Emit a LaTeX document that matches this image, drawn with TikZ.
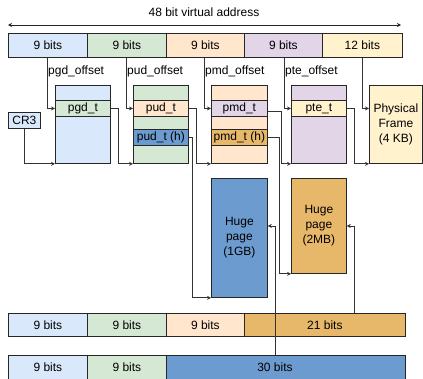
\documentclass[tikz,border=0pt]{standalone}
\usepackage{fontspec}
\setmainfont{Liberation Sans}
\usetikzlibrary{arrows.meta}
\definecolor{cblue}{HTML}{DAE8FC}
\definecolor{cgreen}{HTML}{D5E8D4}
\definecolor{corange}{HTML}{FFE6CC}
\definecolor{cpurple}{HTML}{E1D5E7}
\definecolor{cyellow}{HTML}{FFF2CC}
\definecolor{dblue}{HTML}{6C9BCF}
\definecolor{dorange}{HTML}{E8B86A}
\tikzset{
  box/.style={draw=black!85, line width=0.8pt, inner sep=0pt, anchor=north west, align=center, font=\fontsize{12}{15}\selectfont},
  arr/.style={draw=black!80, line width=0.8pt, -{Stealth[length=4pt,width=4pt]}},
  lbl/.style={inner sep=1pt, anchor=west, font=\fontsize{12}{15}\selectfont}
}
\begin{document}
\begin{tikzpicture}[x=1pt,y=-1pt]
\useasboundingbox (0,0) rectangle (423,378);
% title
\node[font=\fontsize{12}{15}\selectfont] (title) at (204,12) {48 bit virtual address};
\coordinate (tl) at (8,25);
\coordinate (tr) at (401,25);
\draw[draw=black!85, line width=0.8pt, {Stealth[length=4pt,width=4pt]}-{Stealth[length=4pt,width=4pt]}] (tl) -- (tr);
% top bar
\node[box, fill=cblue, minimum width=79pt, minimum height=24pt] (a1) at (8,33) {9 bits};
\node[box, fill=cgreen, minimum width=79pt, minimum height=24pt] (a2) at (87,33) {9 bits};
\node[box, fill=corange, minimum width=78pt, minimum height=24pt] (a3) at (166,33) {9 bits};
\node[box, fill=cpurple, minimum width=78pt, minimum height=24pt] (a4) at (244,33) {9 bits};
\node[box, fill=cyellow, minimum width=80pt, minimum height=24pt] (a5) at (322,33) {12 bits};
% offset labels
\node[lbl] (l1) at (47,71) {pgd\_offset};
\node[lbl] (l2) at (126,71) {pud\_offset};
\node[lbl] (l3) at (204,71) {pmd\_offset};
\node[lbl] (l4) at (284,71) {pte\_offset};
% tables
\node[box, fill=cblue, minimum width=55pt, minimum height=78pt] (pgd) at (55,85) {};
\node[box, fill=cgreen, minimum width=55pt, minimum height=16pt] (pgdt) at (55,100) {pgd\_t};
\node[box, fill=cgreen, minimum width=55pt, minimum height=78pt] (pud) at (133,85) {};
\node[box, fill=corange, minimum width=55pt, minimum height=16pt] (pudt) at (133,100) {pud\_t};
\node[box, fill=dblue, minimum width=55pt, minimum height=16pt] (pudh) at (133,129) {pud\_t (h)};
\node[box, fill=corange, minimum width=56pt, minimum height=78pt] (pmd) at (211,85) {};
\node[box, fill=cpurple, minimum width=56pt, minimum height=16pt] (pmdt) at (211,100) {pmd\_t};
\node[box, fill=dorange, minimum width=56pt, minimum height=16pt] (pmdh) at (211,129) {pmd\_t (h)};
\node[box, fill=cpurple, minimum width=55pt, minimum height=78pt] (pte) at (291,85) {};
\node[box, fill=cyellow, minimum width=55pt, minimum height=16pt] (ptet) at (291,100) {pte\_t};
\node[box, fill=cyellow, minimum width=53pt, minimum height=78pt] (phys) at (369,85) {Physical\\Frame\\(4 KB)};
\node[box, fill=cblue, minimum width=32pt, minimum height=16pt] (cr3) at (8,112) {CR3};
% huge pages
\node[box, fill=dblue, minimum width=56pt, minimum height=119pt] (huge1) at (211,178) {Huge\\page\\(1GB)};
\node[box, fill=dorange, minimum width=55pt, minimum height=95pt] (huge2) at (291,178) {Huge\\page\\(2MB)};
% bottom bar 1
\node[box, fill=cblue, minimum width=79pt, minimum height=23pt] (b1) at (8,313) {9 bits};
\node[box, fill=cgreen, minimum width=79pt, minimum height=23pt] (b2) at (87,313) {9 bits};
\node[box, fill=corange, minimum width=78pt, minimum height=23pt] (b3) at (166,313) {9 bits};
\node[box, fill=dorange, minimum width=161pt, minimum height=23pt] (b4) at (244,313) {21 bits};
% bottom bar 2
\node[box, fill=cblue, minimum width=79pt, minimum height=24pt] (c1) at (8,355) {9 bits};
\node[box, fill=cgreen, minimum width=79pt, minimum height=24pt] (c2) at (87,355) {9 bits};
\node[box, fill=dblue, minimum width=239pt, minimum height=24pt] (c3) at (166,355) {};
\node[font=\fontsize{12}{15}\selectfont] (c3t) at (275,367) {30 bits};
% connectors
\draw[arr] ([xshift=39pt]a1.south west) |- (pgdt.west);
\draw[arr] ([xshift=39pt]a2.south west) |- (pudt.west);
\draw[arr] ([xshift=38pt]a3.south west) |- (pmdt.west);
\draw[arr] ([xshift=40pt]a4.south west) |- (ptet.west);
\draw[arr] ([xshift=40pt]a5.south west) |- (ptet.west -| phys.west);
\draw[arr] (cr3.south) |- (pgd.south west);
\draw[arr] (pgdt.east) -- ++(8,0) |- (pud.south west);
\draw[arr] (pudt.east) -- ++(8,0) |- (pmd.south west);
\draw[arr] ([yshift=-3pt]pmdt.east) -- ++(14,0) |- (pte.south west);
\draw[arr] (ptet.east) -- ++(8,0) |- (phys.south west);
\draw[arr] (pudh.east) -- ++(4,0) |- (huge1.south west);
\draw[arr] (pmdh.east) -- ++(12,0) |- (huge2.south west);
\draw[arr] ([xshift=110pt]b4.north west) |- (huge2.east);
\draw[arr] ([xshift=109pt]c3.north west) |- (huge1.east |- huge2.east);
\end{tikzpicture}
\end{document}
